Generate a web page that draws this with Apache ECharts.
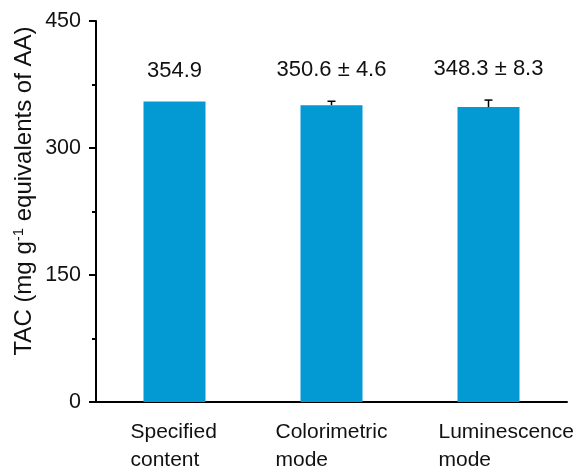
<!DOCTYPE html>
<html><head><meta charset="utf-8">
<script src="https://cdn.jsdelivr.net/npm/echarts@6/dist/echarts.min.js"></script>
<style>html,body{margin:0;padding:0;background:#fff}#c{width:582px;height:469px}</style>
</head><body><div id="c"></div>
<script>
const categories = ['Specified\ncontent', 'Colorimetric\nmode', 'Luminescence\nmode'];
const values = [354.9, 350.6, 348.3];
const errors = [0, 4.6, 8.3];
const valueLabels = ['354.9', '350.6 ± 4.6', '348.3 ± 8.3'];
const yTicks = [0, 150, 300, 450];

const font = 'Liberation Sans, Arial, sans-serif';
const ink = '#111';
const lblBase = {fontFamily: font, fontSize: 21, color: ink, lineHeight: 28, align: 'left'};
const chart = echarts.init(document.getElementById('c'));
chart.setOption({
  animation: false,
  grid: {left: 96, right: 15, top: 21, bottom: 67, containLabel: false, outerBoundsMode: 'none'},
  graphic: [{
    type: 'text', x: 24, y: 191, rotation: Math.PI / 2,
    style: {
      text: '{a|TAC (mg g}{s|-1}{a| equivalents of AA)}',
      align: 'center', verticalAlign: 'middle',
      rich: {
        a: {fontFamily: font, fontSize: 24, fill: ink},
        s: {fontFamily: font, fontSize: 15, fill: ink, verticalAlign: 'top', padding: [0, 0, 10, 0]}
      }
    }
  }],
  xAxis: {
    type: 'category', data: categories,
    axisLine: {lineStyle: {color: '#000', width: 2}},
    axisTick: {alignWithLabel: true, length: 7, lineStyle: {color: '#000', width: 2}},
    axisLabel: {
      interval: 0, hideOverlap: false, margin: 16,
      fontFamily: font, fontSize: 21, color: ink, lineHeight: 28,
      formatter: (val, idx) => val.split('\n').map(s => '{w' + idx + '|' + s + '}').join('\n'),
      rich: {
        w0: Object.assign({width: 88}, lblBase),
        w1: Object.assign({width: 112}, lblBase),
        w2: Object.assign({width: 140, padding: [0, 0, 0, 40]}, lblBase)
      }
    }
  },
  yAxis: {
    type: 'value', min: yTicks[0], max: yTicks[yTicks.length - 1], interval: 150,
    axisLine: {show: true, lineStyle: {color: '#000', width: 2}},
    axisTick: {show: true, length: 7, lineStyle: {color: '#000', width: 2}},
    minorTick: {show: true, splitNumber: 2, length: 4, lineStyle: {color: '#000', width: 2}},
    splitLine: {show: false},
    axisLabel: {fontFamily: font, fontSize: 21.5, color: ink, margin: 15}
  },
  series: [
    {
      type: 'bar', data: values, barWidth: '39.5%',
      itemStyle: {color: '#0399D3'}
    },
    {
      type: 'custom',
      data: values.map((v, i) => [i, v, errors[i]]),
      renderItem: (params, api) => {
        const i = api.value(0), v = api.value(1), e = api.value(2);
        const p0 = api.coord([i, v]);
        const p1 = api.coord([i, v + e]);
        const st = {stroke: '#000', lineWidth: 1.5};
        const children = [{
          type: 'text', x: p1[0], y: p1[1] - 20,
          style: {text: valueLabels[params.dataIndex], align: 'center', verticalAlign: 'bottom',
                  fontFamily: font, fontSize: 22, fill: ink}
        }];
        if (e) {
          children.push(
            {type: 'line', shape: {x1: p0[0], y1: p0[1], x2: p1[0], y2: p1[1]}, style: st},
            {type: 'line', shape: {x1: p1[0] - 4, y1: p1[1], x2: p1[0] + 4, y2: p1[1]}, style: st}
          );
        }
        return {type: 'group', children};
      },
      z: 3
    }
  ]
});
</script>
</body></html>
